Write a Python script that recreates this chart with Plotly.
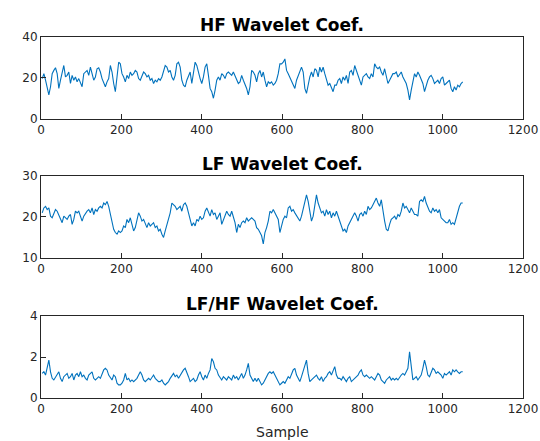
import numpy as np
import plotly.graph_objects as go

# values, on a ~4.14-sample grid from sample 3 to 1050
hf_values = [
    19.7, 22.1, 18.9, 14.9, 11.7, 15.7, 22.1, 23.7, 25.0, 22.1, 14.9, 18.9, 22.9, 26.1, 20.5, 21.3,
    22.9, 17.3, 21.3, 18.9, 20.5, 18.1, 19.7, 17.3, 15.7, 22.1, 22.9, 23.7, 21.3, 25.3, 22.1, 18.9,
    20.5, 24.5, 25.0, 22.9, 19.7, 17.3, 15.7, 18.1, 19.7, 26.1, 22.9, 17.3, 13.3, 20.5, 27.7, 26.9,
    22.1, 20.5, 18.1, 21.3, 19.7, 22.9, 21.3, 22.1, 23.7, 22.9, 19.7, 18.9, 20.5, 22.9, 22.1, 20.5,
    21.3, 18.9, 19.7, 17.3, 18.9, 18.1, 19.7, 18.9, 20.5, 23.7, 26.1, 25.3, 22.9, 23.7, 20.5, 18.9,
    21.3, 26.9, 27.7, 25.3, 18.9, 16.5, 15.7, 18.9, 21.3, 22.9, 17.3, 22.1, 27.7, 26.1, 22.1, 19.7,
    17.3, 20.5, 25.3, 26.9, 21.3, 14.9, 13.3, 10.1, 14.1, 18.9, 20.5, 18.9, 22.1, 21.3, 19.7, 22.1,
    22.9, 22.1, 21.3, 22.9, 21.3, 19.7, 17.3, 18.1, 21.3, 18.9, 17.3, 14.9, 11.7, 15.7, 23.7, 22.9,
    21.3, 18.1, 22.1, 23.7, 20.5, 22.9, 18.9, 15.7, 18.1, 17.3, 18.1, 16.5, 17.3, 18.9, 22.1, 26.9,
    26.9, 27.7, 29.3, 23.7, 22.1, 20.5, 18.9, 17.3, 14.9, 18.9, 21.3, 23.7, 25.3, 22.9, 14.9, 12.5,
    17.3, 20.5, 22.9, 20.5, 24.5, 23.7, 20.5, 25.3, 22.9, 25.3, 22.1, 18.9, 16.5, 17.3, 14.9, 13.3,
    16.5, 16.5, 18.9, 19.7, 17.3, 20.5, 18.9, 21.3, 17.3, 22.9, 23.7, 21.3, 26.1, 23.7, 20.5, 18.1,
    16.5, 20.5, 21.3, 22.1, 20.5, 19.7, 22.1, 20.5, 26.9, 25.3, 24.5, 25.3, 22.9, 21.3, 24.5, 20.5,
    17.3, 18.9, 20.5, 22.1, 22.1, 22.9, 20.5, 22.1, 22.9, 20.5, 18.9, 17.3, 14.1, 9.3, 14.1, 18.1,
    22.1, 20.5, 22.9, 21.3, 19.7, 17.3, 13.3, 16.5, 18.9, 20.5, 21.3, 19.7, 17.3, 18.1, 18.9, 17.3,
    19.7, 20.5, 16.5, 17.3, 18.1, 18.9, 14.9, 13.3, 15.7, 14.1, 16.5, 15.7, 17.3, 18.1,
]

lf_values = [
    21.0, 22.2, 22.6, 21.8, 22.2, 20.2, 19.8, 21.0, 21.8, 21.4, 20.6, 19.4, 18.6, 20.2, 19.8, 19.4,
    20.2, 20.6, 18.2, 19.4, 21.4, 21.0, 21.4, 20.2, 19.0, 20.2, 21.0, 21.4, 21.8, 21.0, 22.2, 20.6,
    21.8, 21.4, 22.2, 22.6, 22.2, 23.4, 23.0, 23.8, 22.6, 20.6, 18.6, 17.0, 16.2, 15.8, 16.6, 16.2,
    16.6, 17.8, 17.4, 19.4, 18.6, 19.8, 18.2, 16.6, 17.4, 19.4, 21.0, 20.2, 19.0, 19.4, 18.2, 17.4,
    18.6, 17.8, 18.2, 18.6, 17.4, 17.8, 16.6, 17.0, 15.8, 15.0, 16.6, 18.2, 19.8, 21.0, 23.4, 23.0,
    22.6, 21.8, 22.2, 22.6, 21.4, 23.0, 23.4, 22.6, 21.0, 19.4, 17.8, 18.6, 17.8, 19.4, 19.0, 20.2,
    19.4, 19.8, 21.4, 22.2, 21.0, 20.2, 21.8, 20.6, 21.0, 19.4, 20.2, 21.0, 18.2, 19.4, 20.6, 21.4,
    20.6, 20.2, 21.4, 20.2, 18.6, 16.2, 18.2, 17.4, 18.6, 19.0, 18.6, 19.8, 19.0, 19.4, 19.8, 19.4,
    19.0, 17.4, 17.0, 16.2, 15.4, 13.4, 16.2, 17.4, 19.0, 21.4, 21.0, 21.8, 21.0, 20.2, 19.4, 16.2,
    18.2, 19.4, 20.2, 19.8, 22.2, 22.6, 21.4, 21.8, 21.0, 20.2, 19.8, 19.0, 20.2, 21.8, 23.4, 25.4,
    23.8, 21.0, 19.0, 20.2, 23.4, 25.4, 23.4, 22.2, 21.0, 21.4, 20.2, 21.8, 20.6, 21.4, 19.8, 21.0,
    20.2, 21.4, 20.2, 18.6, 17.4, 16.6, 17.0, 16.2, 17.8, 18.6, 19.4, 20.6, 21.0, 20.2, 19.0, 20.6,
    21.0, 20.2, 21.4, 20.6, 22.6, 21.8, 22.2, 23.0, 23.8, 24.6, 23.4, 22.6, 24.2, 21.0, 19.0, 17.0,
    16.6, 18.2, 19.4, 19.8, 20.2, 19.4, 20.6, 20.2, 21.4, 23.4, 22.2, 22.6, 21.8, 21.0, 22.2, 21.4,
    20.6, 20.6, 20.2, 23.8, 24.2, 23.8, 25.0, 23.4, 22.2, 21.4, 21.0, 22.2, 21.4, 21.8, 21.0, 21.8,
    19.8, 19.4, 19.0, 18.6, 18.6, 19.4, 18.2, 18.6, 18.2, 19.8, 21.0, 22.6, 23.4, 23.4,
]

ratio_values = [
    1.20, 1.28, 1.12, 1.45, 1.85, 1.28, 0.96, 0.88, 1.04, 1.20, 1.28, 0.96, 0.80, 1.04, 1.12, 1.20,
    0.96, 1.04, 1.20, 0.88, 1.12, 1.20, 1.04, 1.28, 1.04, 1.12, 0.96, 0.88, 1.12, 1.20, 1.28, 0.96,
    0.88, 0.96, 1.04, 0.96, 1.20, 1.37, 1.45, 1.37, 1.12, 0.96, 0.88, 1.12, 1.04, 0.72, 0.64, 0.64,
    0.72, 0.88, 1.20, 0.88, 0.96, 0.80, 0.88, 0.80, 0.88, 0.96, 1.12, 1.28, 1.12, 0.88, 0.80, 0.88,
    0.96, 0.88, 1.04, 1.12, 0.96, 0.88, 0.80, 0.80, 0.88, 0.72, 0.64, 0.72, 0.80, 0.96, 1.12, 1.20,
    1.04, 1.12, 0.96, 1.12, 1.28, 1.37, 1.45, 1.28, 1.04, 0.80, 0.88, 0.96, 0.80, 0.88, 1.12, 1.28,
    1.04, 0.88, 1.12, 0.96, 1.20, 1.37, 1.93, 1.77, 1.45, 1.37, 1.12, 0.96, 0.88, 1.04, 0.96, 0.88,
    1.04, 0.96, 0.88, 1.12, 0.96, 1.04, 0.88, 1.04, 1.20, 0.96, 1.12, 1.37, 1.69, 1.12, 0.96, 0.80,
    0.96, 0.80, 0.96, 0.80, 0.64, 0.72, 0.88, 1.12, 1.20, 1.28, 1.20, 1.28, 1.12, 1.04, 0.80, 0.64,
    0.72, 0.80, 0.72, 0.88, 1.04, 0.96, 1.20, 1.37, 1.45, 1.12, 0.96, 0.80, 1.04, 1.28, 1.61, 1.85,
    1.20, 0.80, 0.88, 0.96, 1.04, 1.12, 0.96, 0.88, 1.04, 0.80, 0.96, 1.04, 1.20, 1.28, 1.12, 1.37,
    1.53, 1.12, 0.96, 0.96, 0.88, 1.04, 0.88, 0.80, 0.96, 1.04, 0.80, 0.88, 0.96, 1.04, 1.12, 1.28,
    1.37, 1.12, 1.04, 1.12, 1.04, 0.96, 1.04, 0.96, 0.88, 1.04, 1.20, 1.12, 0.88, 0.80, 0.72, 0.88,
    0.96, 1.04, 0.88, 0.96, 0.88, 0.96, 0.88, 1.04, 1.12, 1.20, 1.12, 1.28, 1.45, 2.25, 1.53, 0.88,
    0.96, 1.04, 0.88, 1.04, 1.12, 1.45, 1.85, 1.53, 1.12, 1.04, 1.28, 1.45, 1.37, 1.20, 1.28, 1.20,
    1.12, 0.96, 1.20, 1.12, 1.20, 1.28, 1.12, 1.37, 1.28, 1.37, 1.28, 1.20, 1.28, 1.28,
]

titles = ["HF Wavelet Coef.", "LF Wavelet Coef.", "LF/HF Wavelet Coef."]
x_ticks = [0, 200, 400, 600, 800, 1000, 1200]
y_ranges = [[0, 40], [10, 30], [0, 4]]
y_ticks = [[0, 20, 40], [10, 20, 30], [0, 2, 4]]

series = [hf_values, lf_values, ratio_values]
samples = np.linspace(3, 1050, len(hf_values))

domains = [[0.773, 1.0], [0.388, 0.615], [0.0, 0.227]]
AX = "#262626"
FONT = "DejaVu Sans, sans-serif"

fig = go.Figure()
layout = dict(
    width=540, height=441,
    margin=dict(l=41, r=17, t=37, b=43),
    paper_bgcolor="white", plot_bgcolor="white",
    showlegend=False,
    font=dict(family=FONT, size=12, color=AX),
    annotations=[],
)
for i, vals in enumerate(series):
    n = "" if i == 0 else str(i + 1)
    fig.add_trace(go.Scatter(x=samples, y=vals, mode="lines",
                             line=dict(color="#0072BD", width=1.1),
                             xaxis="x" + n, yaxis="y" + n, hoverinfo="skip"))
    common = dict(showline=True, linecolor=AX, linewidth=1, mirror=True,
                  ticks="inside", ticklen=5, tickcolor=AX, showgrid=False,
                  zeroline=False, automargin=False,
                  tickfont=dict(size=12, color=AX, family=FONT))
    layout["xaxis" + n] = dict(common, domain=[0, 1], range=[0, 1200],
                               tickvals=x_ticks, anchor="y" + n)
    layout["yaxis" + n] = dict(common, domain=domains[i], range=y_ranges[i],
                               tickvals=y_ticks[i], anchor="x" + n)
    layout["annotations"].append(dict(
        text="<b>" + titles[i] + "</b>", x=0.5, y=domains[i][1],
        xref="paper", yref="paper", xanchor="center", yanchor="bottom",
        yshift=0, showarrow=False, font=dict(size=17, color="black", family=FONT)))

layout["annotations"].append(dict(
    text="Sample", x=0.5, y=0, xref="paper", yref="paper",
    xanchor="center", yanchor="top", yshift=-24, showarrow=False,
    font=dict(size=14, color=AX, family=FONT)))

fig.update_layout(**layout)
fig.write_html("out.html", config={"displayModeBar": False},
               post_script="document.body.style.margin='0px';document.body.style.overflow='hidden';")
